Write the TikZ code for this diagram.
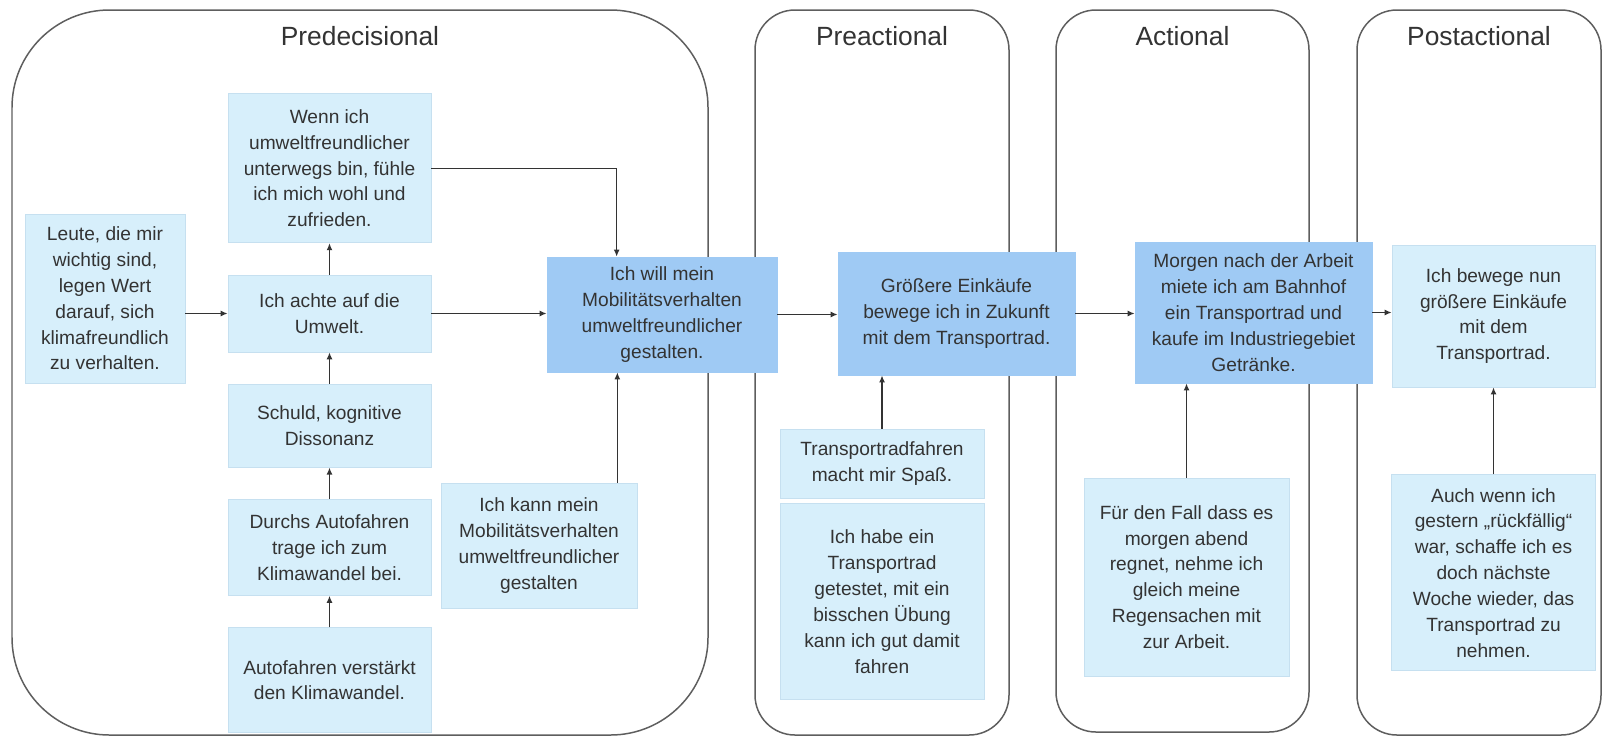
\documentclass[tikz,border=0pt]{standalone}
\usepackage{fontspec}
\setmainfont{Liberation Sans}
\usetikzlibrary{calc}
\usetikzlibrary{positioning}
\usetikzlibrary{arrows.meta}

\definecolor{lightbox}{HTML}{D7EFFB}
\definecolor{lightedge}{HTML}{C6E0F0}
\definecolor{darkbox}{HTML}{9FCAF4}
\definecolor{textgray}{HTML}{333333}
\definecolor{framegray}{HTML}{5E5E5E}

\begin{document}
\begin{tikzpicture}[textgray, line width = 0.75pt,
    phase/.style = {draw = framegray, line width = 0.85pt},
    phasetitle/.style = {anchor = base, font = \fontsize{15}{18}\selectfont},
    idea/.style = {rectangle, fill = lightbox, draw = lightedge, line width = 0.4pt, inner sep = 0pt, align = center, font = \fontsize{10.9}{14.7}\selectfont},
    intention/.style = {idea, fill = darkbox, draw = darkbox},
    arr/.style = {-{Latex[length = 4pt, width = 3.4pt]}, draw = textgray}]

    \useasboundingbox (0,0) rectangle (32.14,-14.74);


    \draw[phase, rounded corners = 1.95cm] (0.24,-0.20) rectangle (14.16,-14.70);
    \draw[phase, rounded corners = 0.8cm] (15.10,-0.20) rectangle (20.18,-14.70);
    \draw[phase, rounded corners = 0.8cm] (21.12,-0.20) rectangle (26.18,-14.64);
    \draw[phase, rounded corners = 0.8cm] (27.14,-0.20) rectangle (32.02,-14.70);

    \node (tpre)  at (7.20,-0.90)  [phasetitle] {Predecisional};
    \node (tprea) at (17.64,-0.90) [phasetitle] {Preactional};
    \node (tact)  at (23.65,-0.90) [phasetitle] {Actional};
    \node (tpost) at (29.58,-0.90) [phasetitle] {Postactional};


    \begin{scope}[on grid]

        \node (achte) at (6.59,-6.27) [idea, minimum width = 4.06cm, minimum height = 1.54cm] {Ich achte auf die\\Umwelt.};
        \node (leute) at (2.10,-5.97) [idea, minimum width = 3.20cm, minimum height = 3.38cm] {Leute, die mir\\wichtig sind,\\legen Wert\\darauf, sich\\klimafreundlich\\zu verhalten.};
    \end{scope}

    \node (wenn)       [idea, minimum width = 4.06cm, minimum height = 2.98cm, above = 0.63 of achte] {Wenn ich\\umweltfreundlicher\\unterwegs bin, fühle\\ich mich wohl und\\zufrieden.};
    \node (schuld)     [idea, minimum width = 4.06cm, minimum height = 1.66cm, below = 0.63 of achte] {Schuld, kognitive\\Dissonanz};
    \node (durchs)     [idea, minimum width = 4.06cm, minimum height = 1.92cm, below = 0.63 of schuld] {Durchs Autofahren\\trage ich zum\\Klimawandel bei.};
    \node (verstaerkt) [idea, minimum width = 4.06cm, minimum height = 2.10cm, below = 0.63 of durchs] {Autofahren verstärkt\\den Klimawandel.};

    \node (will) at (13.24,-6.29) [intention, minimum width = 4.60cm, minimum height = 2.30cm] {Ich will mein\\Mobilitätsverhalten\\umweltfreundlicher\\gestalten.};
    \node (kann) at (10.78,-10.91) [idea, minimum width = 3.92cm, minimum height = 2.50cm] {Ich kann mein\\Mobilitätsverhalten\\umweltfreundlicher\\gestalten};

    \node (groesser) at (19.13,-6.27) [intention, minimum width = 4.74cm, minimum height = 2.46cm] {Größere Einkäufe\\bewege ich in Zukunft\\mit dem Transportrad.};
    \node (spass) at (17.64,-9.27) [idea, minimum width = 4.08cm, minimum height = 1.38cm] {Transportradfahren\\macht mir Spaß.};
    \node (habe) [idea, minimum width = 4.08cm, minimum height = 3.92cm, below = 0.10 of spass] {Ich habe ein\\Transportrad\\getestet, mit ein\\bisschen Übung\\kann ich gut damit\\fahren};

    \node (morgen) at (25.07,-6.25) [intention, minimum width = 4.74cm, minimum height = 2.82cm] {Morgen nach der Arbeit\\miete ich am Bahnhof\\ein Transportrad und\\kaufe im Industriegebiet\\Getränke.};
    \node (fall) at (23.73,-11.54) [idea, minimum width = 4.10cm, minimum height = 3.96cm] {Für den Fall dass es\\morgen abend\\regnet, nehme ich\\gleich meine\\Regensachen mit\\zur Arbeit.};

    \node (bewege) at (29.87,-6.32) [idea, minimum width = 4.06cm, minimum height = 2.84cm] {Ich bewege nun\\größere Einkäufe\\mit dem\\Transportrad.};
    \node (auch) [idea, minimum width = 4.08cm, minimum height = 3.92cm, below = 1.74 of bewege] {Auch wenn ich\\gestern „rückfällig“\\war, schaffe ich es\\doch nächste\\Woche wieder, das\\Transportrad zu\\nehmen.};


    \draw[arr] (leute.east |- achte.west) -- (achte.west);
    \draw[arr] (achte.north) -- (wenn.south);
    \draw[arr] (schuld.north) -- (achte.south);
    \draw[arr] (durchs.north) -- (schuld.south);
    \draw[arr] (verstaerkt.north) -- (durchs.south);
    \draw[arr] (achte.east) -- (achte.east -| will.west);
    \draw[arr] (wenn.east) -| ([xshift = 1.4cm]will.north west);
    \draw[arr] ([xshift = -0.4cm]kann.north east) -- ([xshift = -0.4cm]kann.north east |- will.south);

    \draw[arr] (will.east) -- (will.east -| groesser.west);
    \draw[arr] (spass.north) -- (spass.north |- groesser.south);

    \draw[arr] (groesser.east) -- (groesser.east -| morgen.west);
    \draw[arr] (fall.north) -- (fall.north |- morgen.south);

    \draw[arr] (morgen.east) -- (morgen.east -| bewege.west);
    \draw[arr] (auch.north) -- (auch.north |- bewege.south);

\end{tikzpicture}
\end{document}
